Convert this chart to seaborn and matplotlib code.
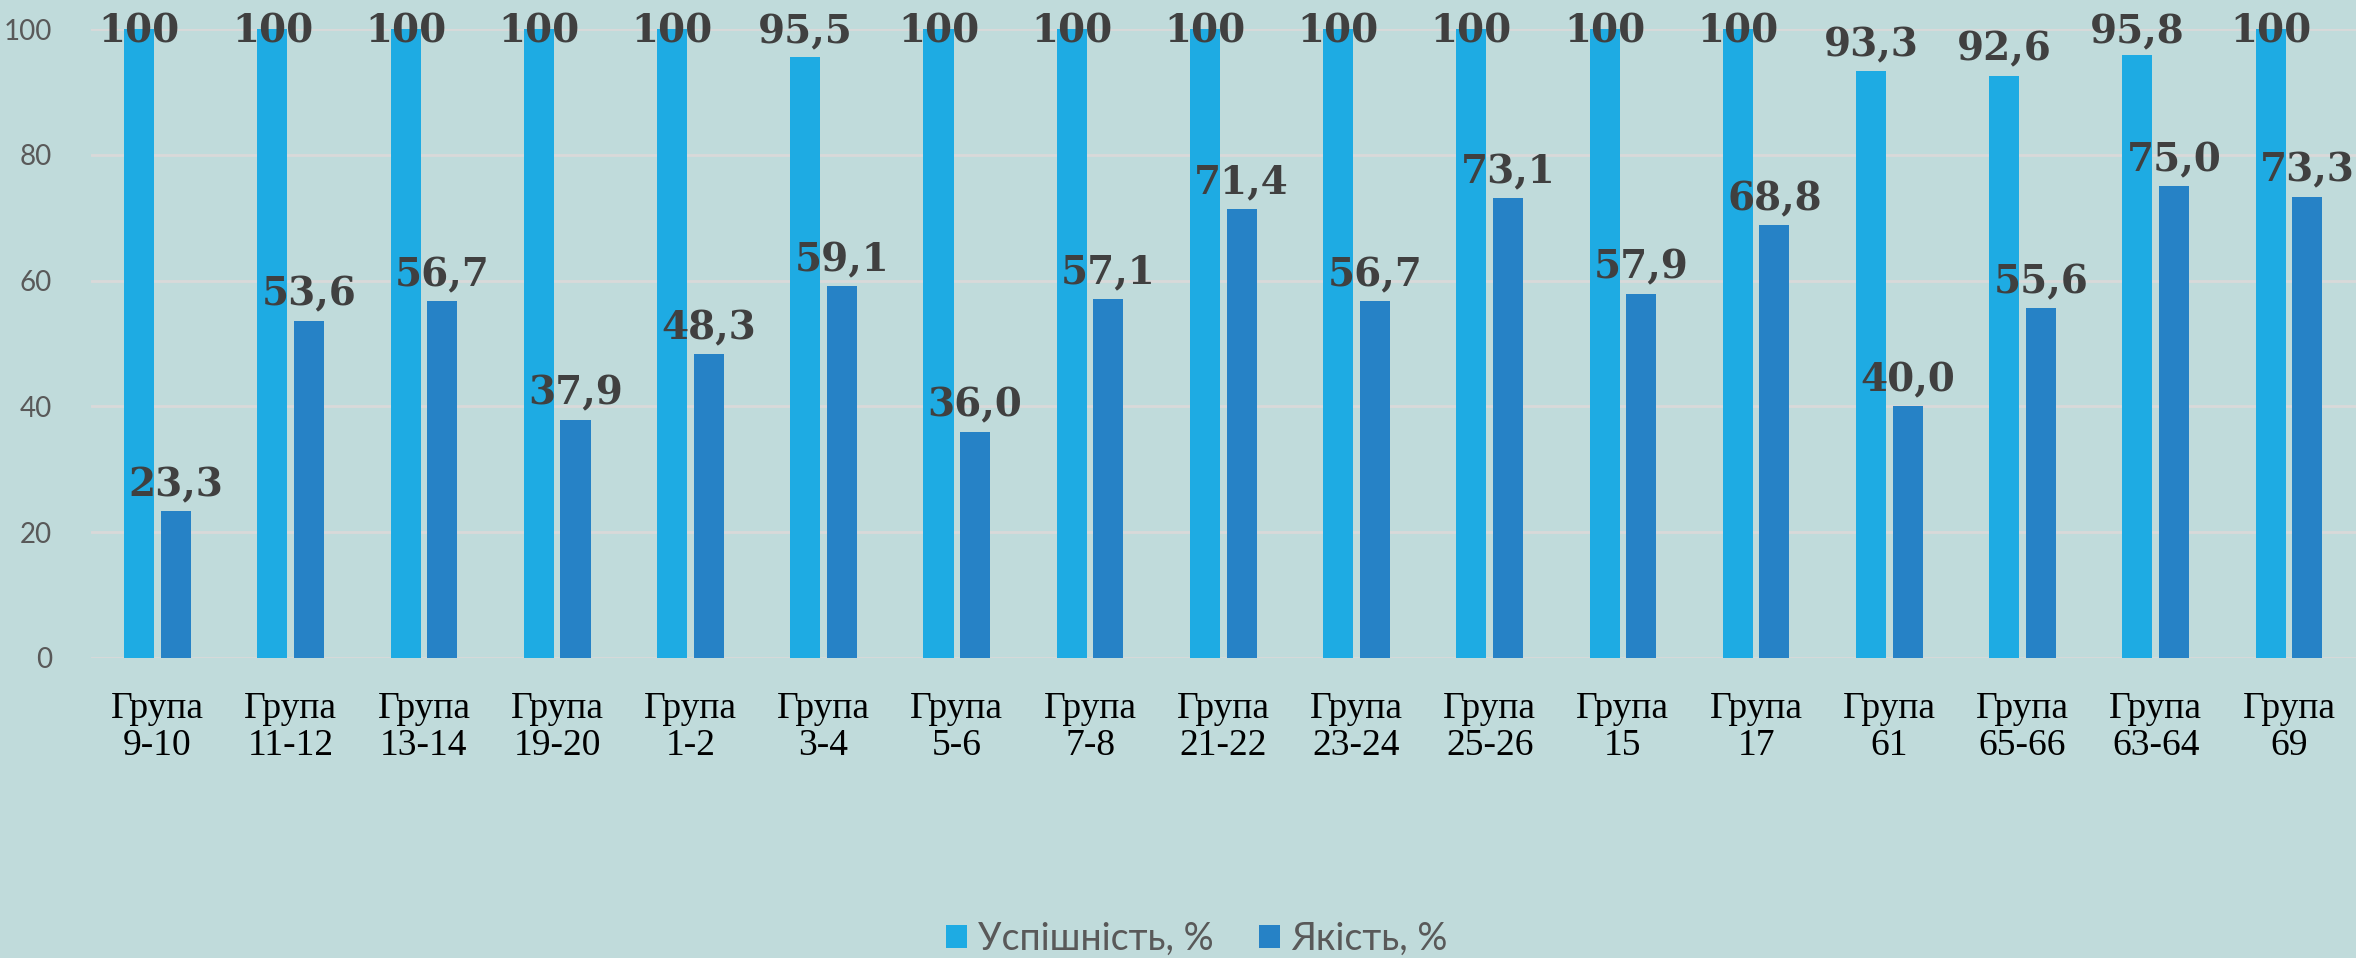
import numpy as np
import pandas as pd
import matplotlib
matplotlib.use("Agg")
import matplotlib.pyplot as plt
import seaborn as sns

# Data
groups = ["Група\n9-10", "Група\n11-12", "Група\n13-14", "Група\n19-20", "Група\n1-2",
          "Група\n3-4", "Група\n5-6", "Група\n7-8", "Група\n21-22", "Група\n23-24",
          "Група\n25-26", "Група\n15", "Група\n17", "Група\n61", "Група\n65-66",
          "Група\n63-64", "Група\n69"]
uspishnist = [100, 100, 100, 100, 100, 95.5, 100, 100, 100, 100, 100, 100, 100, 93.3, 92.6, 95.8, 100]
yakist = [23.3, 53.6, 56.7, 37.9, 48.3, 59.1, 36.0, 57.1, 71.4, 56.7, 73.1, 57.9, 68.8, 40.0, 55.6, 75.0, 73.3]
series_names = ["Успішність, %", "Якість, %"]
colors = ["#1EABE3", "#2682C6"]
bg = "#C0DBDB"

df = pd.DataFrame({
    "group": groups * 2,
    "value": uspishnist + yakist,
    "series": [series_names[0]] * len(groups) + [series_names[1]] * len(groups),
})

sns.set_style("white")
plt.rcParams['font.family'] = ['Lato', 'DejaVu Sans']

fig = plt.figure(figsize=(23.56, 9.58), dpi=100, facecolor=bg)
ax = fig.add_axes([0.0386, 0.3132, 0.9612, 0.6565])
ax.set_facecolor(bg)

sns.barplot(data=df, x="group", y="value", hue="series", palette=colors,
            width=0.55, gap=0.18, linewidth=0, saturation=1, ax=ax, zorder=3)

ax.set_ylim(0, 100)
ax.set_xlim(-0.5, len(groups) - 0.5)
ax.set_yticks([0, 20, 40, 60, 80, 100])
ax.yaxis.grid(True, color="#D9D9D9", linewidth=2, zorder=0)
ax.set_axisbelow(True)
for s in ax.spines.values():
    s.set_visible(False)
ax.set_xlabel("")
ax.set_ylabel("")
ax.tick_params(axis="y", length=0, pad=28, labelsize=20, labelcolor="#595959")
ax.tick_params(axis="x", length=0, pad=24)
ax.set_xticks(range(len(groups)))
ax.set_xticklabels(groups, family=["Liberation Serif"], fontsize=27,
                   color="black", linespacing=1.1)

# Value labels above each bar, kept inside the plot area
for cont, vals in zip(ax.containers, [uspishnist, yakist]):
    for bar, v in zip(cont, vals):
        txt = "100" if v == 100 else f"{v:.1f}".replace(".", ",")
        ax.text(bar.get_x() + bar.get_width() / 2, min(v + 2.4, 97.8), txt,
                ha="center", va="baseline", fontsize=28, fontweight="bold",
                family=["DejaVu Serif"], color="#404040", zorder=5)

handles, labels = ax.get_legend_handles_labels()
ax.get_legend().remove()
fig.legend(handles, labels, loc="center", bbox_to_anchor=(0.508, 0.02),
           ncol=2, frameon=False, fontsize=27, labelcolor="#595959",
           handlelength=0.56, handleheight=0.56, handletextpad=0.3,
           columnspacing=1.2)

fig.savefig("out.png", dpi=100, facecolor=bg)
